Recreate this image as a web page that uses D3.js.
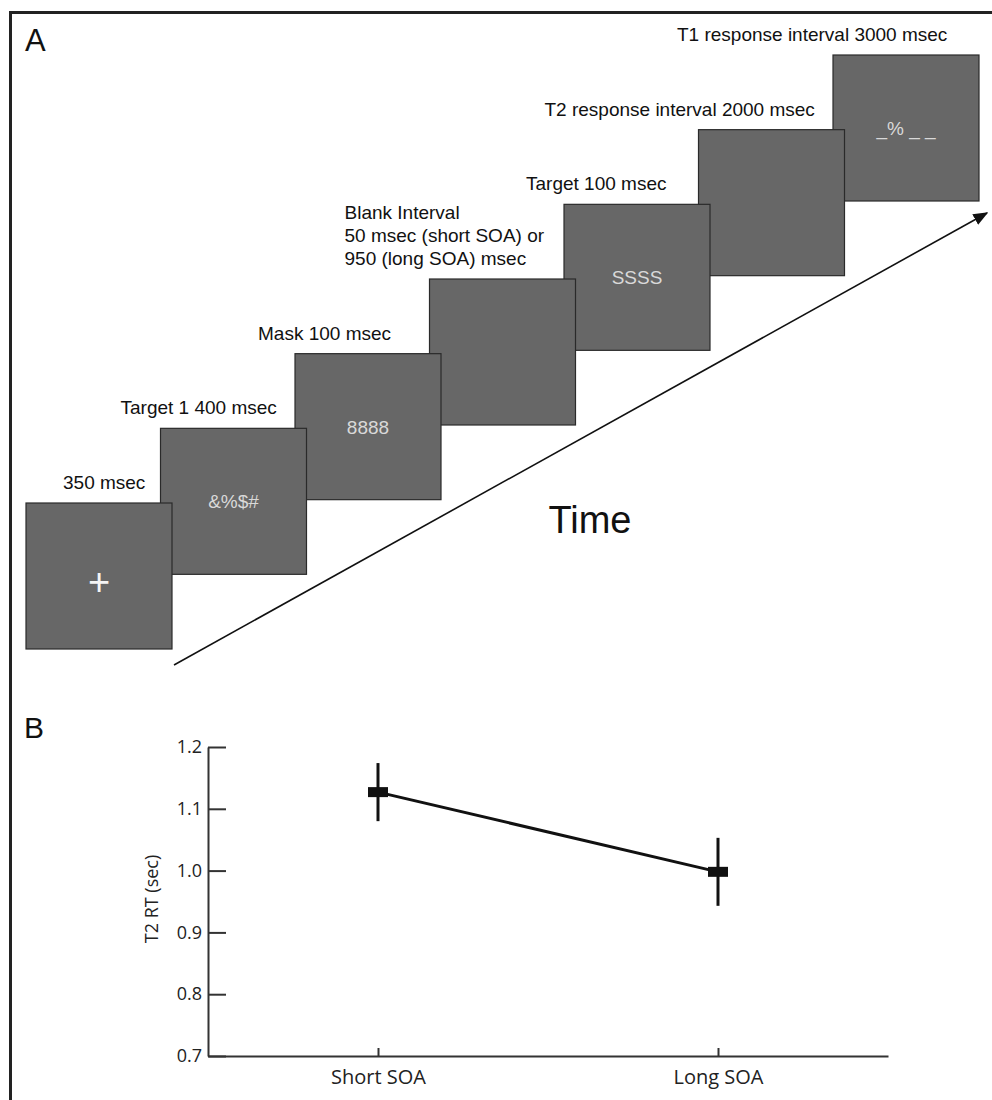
<!DOCTYPE html>
<html>
<head>
<meta charset="utf-8">
<script src="https://cdn.jsdelivr.net/npm/d3@7"></script>
<style>
  body { margin: 0; background: #fff; }
  svg { display: block; }
</style>
</head>
<body>
<script>
// Panel A: trial sequence
const frameContent = ["+", "&%$#", "8888", "", "SSSS", "", "_% _ _"];
const frameLabels = [
  ["350 msec"],
  ["Target 1 400 msec"],
  ["Mask 100 msec"],
  ["Blank Interval", "50 msec (short SOA) or", "950 (long SOA) msec"],
  ["Target 100 msec"],
  ["T2 response interval 2000 msec"],
  ["T1 response interval 3000 msec"]
];

// Panel B: T2 reaction time
const conditions = ["Short SOA", "Long SOA"];
const meanRT = [1.127, 0.998];
const errRT = [0.047, 0.055];
const yTicks = [0.7, 0.8, 0.9, 1.0, 1.1, 1.2];

var width = 992, height = 1100;
var svg = d3.select("body").append("svg")
  .attr("width", width)
  .attr("height", height)
  .style("font-family", "'Liberation Sans', Arial, sans-serif");

// frame lines
svg.append("path")
  .attr("d", "M10.5,1100 V12.5 H992")
  .attr("fill", "none")
  .attr("stroke", "#222")
  .attr("stroke-width", 3);

svg.append("text").attr("x", 25).attr("y", 51)
  .attr("font-size", 31).attr("fill", "#111").text("A");
svg.append("text").attr("x", 24).attr("y", 738)
  .attr("font-size", 30).attr("fill", "#111").text("B");

// ---- panel A ----
var boxSize = 146;
var step = d3.range(frameContent.length);
var bx = d3.scaleLinear().domain([0, 6]).range([26, 833]);
var by = d3.scaleLinear().domain([0, 6]).range([503, 55]);

// label start offsets from each box's left edge
var labelDx = [37, -40, -37, -85, -38, -154, -156];

var defs = svg.append("defs");
defs.append("marker")
  .attr("id", "head")
  .attr("viewBox", "0 0 10 10")
  .attr("refX", 9).attr("refY", 5)
  .attr("markerWidth", 15).attr("markerHeight", 12)
  .attr("markerUnits", "userSpaceOnUse")
  .attr("orient", "auto")
  .attr("preserveAspectRatio", "none")
  .append("path").attr("d", "M0,0 L10,5 L0,10 Z").attr("fill", "#111");

// time arrow
svg.append("line")
  .attr("x1", 174).attr("y1", 665)
  .attr("x2", 987).attr("y2", 213)
  .attr("stroke", "#111").attr("stroke-width", 1.6)
  .attr("marker-end", "url(#head)");

svg.append("text")
  .attr("x", 590).attr("y", 533)
  .attr("text-anchor", "middle")
  .attr("font-size", 38).attr("fill", "#111")
  .text("Time");

// earlier frames sit on top, so draw in reverse
var frames = svg.append("g").selectAll("g")
  .data(step.slice().reverse())
  .join("g")
  .attr("transform", function(i) { return "translate(" + bx(i) + "," + by(i) + ")"; });

frames.append("rect")
  .attr("width", boxSize).attr("height", boxSize)
  .attr("fill", "#676767")
  .attr("stroke", "#2a2a2a").attr("stroke-width", 1.2);

frames.append("text")
  .attr("x", boxSize / 2)
  .attr("y", function(i) { return i == 0 ? boxSize / 2 + 19 : boxSize / 2 + 7; })
  .attr("text-anchor", "middle")
  .attr("font-size", function(i) { return i == 0 ? 38 : 19; })
  .attr("fill", function(i) { return i == 0 ? "#f4f4f4" : "#d9d9d9"; })
  .text(function(i) { return frameContent[i]; });

// labels above frames
var labels = svg.append("g").selectAll("text")
  .data(step)
  .join("text")
  .attr("font-size", 19)
  .attr("fill", "#111")
  .attr("x", function(i) { return bx(i) + labelDx[i]; })
  .attr("y", function(i) { return by(i) - 14 - (frameLabels[i].length - 1) * 23; });

labels.selectAll("tspan")
  .data(function(i) { return frameLabels[i].map(function(t) { return { t: t, x: bx(i) + labelDx[i] }; }); })
  .join("tspan")
  .attr("x", function(d) { return d.x; })
  .attr("dy", function(d, k) { return k == 0 ? 0 : 23; })
  .text(function(d) { return d.t; });

// ---- panel B ----
var x = d3.scalePoint().domain(conditions).range([208, 888]).padding(0.5);
var y = d3.scaleLinear().domain([0.7, 1.2]).range([1056, 747]);

var axisFont = "'Open Sans', 'Noto Sans', sans-serif";

var yAxis = svg.append("g")
  .attr("transform", "translate(208,0)")
  .call(d3.axisLeft(y).tickValues(yTicks).tickFormat(d3.format(".1f"))
    .tickSize(-18).tickSizeOuter(0).tickPadding(6));
yAxis.selectAll("path, line").attr("stroke", "#333").attr("stroke-width", 2);
yAxis.selectAll("text").attr("font-size", 18).attr("font-family", axisFont).attr("fill", "#222");

var xAxis = svg.append("g")
  .attr("transform", "translate(0,1056)")
  .call(d3.axisBottom(x).tickSize(-8).tickSizeOuter(0).tickPadding(14));
xAxis.selectAll("path, line").attr("stroke", "#333").attr("stroke-width", 2);
xAxis.selectAll("text").attr("font-size", 20).attr("font-family", axisFont).attr("fill", "#222");

svg.append("text")
  .attr("transform", "translate(158,899) rotate(-90)")
  .attr("text-anchor", "middle")
  .attr("font-size", 18)
  .attr("font-family", axisFont)
  .attr("fill", "#222")
  .text("T2 RT (sec)");

var pts = conditions.map(function(c, i) { return {c: c, m: meanRT[i], e: errRT[i]}; });

svg.append("path")
  .datum(pts)
  .attr("fill", "none")
  .attr("stroke", "#111")
  .attr("stroke-width", 3)
  .attr("d", d3.line().x(function(d) { return x(d.c); }).y(function(d) { return y(d.m); }));

svg.append("g").selectAll("line")
  .data(pts)
  .join("line")
  .attr("x1", function(d) { return x(d.c); })
  .attr("x2", function(d) { return x(d.c); })
  .attr("y1", function(d) { return y(d.m + d.e); })
  .attr("y2", function(d) { return y(d.m - d.e); })
  .attr("stroke", "#111").attr("stroke-width", 3);

svg.append("g").selectAll("rect")
  .data(pts)
  .join("rect")
  .attr("x", function(d) { return x(d.c) - 10; })
  .attr("y", function(d) { return y(d.m) - 5; })
  .attr("width", 20).attr("height", 10)
  .attr("fill", "#111");
</script>
</body>
</html>
